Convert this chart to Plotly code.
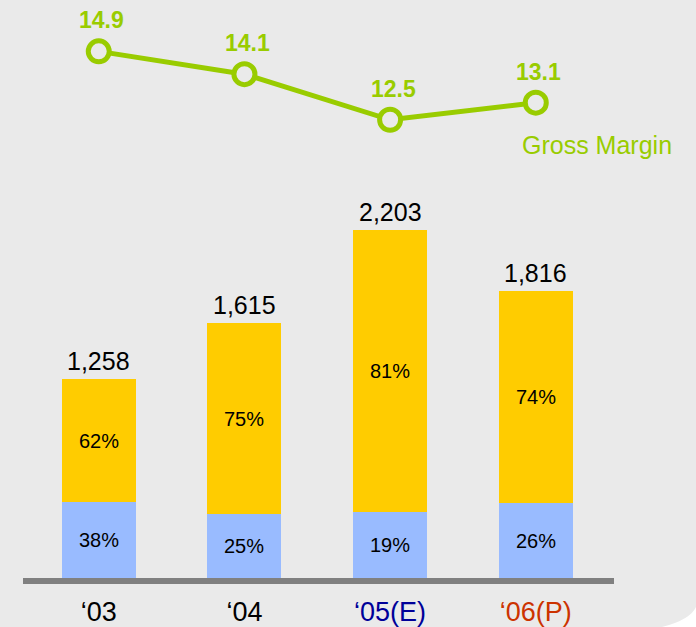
import plotly.graph_objects as go

# ---- data ----
categories = ["‘03", "‘04", "‘05(E)", "‘06(P)"]
category_colors = ["#000000", "#000000", "#000099", "#CC3300"]
totals = [1258, 1615, 2203, 1816]
share_lower = [38, 25, 19, 26]   # light blue segment (%)
share_upper = [62, 75, 81, 74]   # yellow segment (%)
gross_margin = [14.9, 14.1, 12.5, 13.1]

lower_vals = [t * s / 100 for t, s in zip(totals, share_lower)]
upper_vals = [t * s / 100 for t, s in zip(totals, share_upper)]

FONT = "Arial, Liberation Sans, sans-serif"
GREEN = "#99CC00"
BG = "#EAEAEA"

fig = go.Figure()

fig.add_trace(go.Bar(
    x=categories, y=lower_vals, marker=dict(color="#99BBFF", line=dict(width=0)),
    text=[f"{s}%" for s in share_lower], textposition="inside",
    insidetextanchor="middle", constraintext="none",
    textfont=dict(family=FONT, size=20, color="#000000"),
    width=0.508, hoverinfo="skip", showlegend=False,
))
fig.add_trace(go.Bar(
    x=categories, y=upper_vals, marker=dict(color="#FFCC00", line=dict(width=0)),
    text=[f"{s}%" for s in share_upper], textposition="inside",
    insidetextanchor="middle", constraintext="none",
    textfont=dict(family=FONT, size=20, color="#000000"),
    width=0.508, hoverinfo="skip", showlegend=False,
))

fig.add_trace(go.Scatter(
    x=categories, y=gross_margin, yaxis="y2", mode="lines+markers",
    line=dict(color=GREEN, width=5),
    marker=dict(size=21, color=BG, line=dict(color=GREEN, width=5)),
    cliponaxis=False, hoverinfo="skip", showlegend=False,
))

annotations = []
for c, t in zip(categories, totals):
    annotations.append(dict(
        x=c, y=t, xref="x", yref="y", text=f"{t:,}", showarrow=False,
        yanchor="bottom", yshift=2,
        font=dict(family=FONT, size=25, color="#000000"),
    ))
for c, g in zip(categories, gross_margin):
    annotations.append(dict(
        x=c, y=g, xref="x", yref="y2", text=f"<b>{g}</b>", showarrow=False,
        yanchor="middle", xshift=3, yshift=31,
        font=dict(family=FONT, size=23, color=GREEN),
    ))
annotations.append(dict(
    x=categories[-1], y=gross_margin[-1], xref="x", yref="y2",
    text="Gross Margin", showarrow=False, xanchor="center", yanchor="middle",
    xshift=61, yshift=-42, font=dict(family=FONT, size=25, color=GREEN),
))

fig.update_layout(
    width=696, height=627,
    margin=dict(l=0, r=0, t=0, b=0, autoexpand=False),
    paper_bgcolor="#FFFFFF", plot_bgcolor="rgba(0,0,0,0)",
    barmode="stack", bargap=0,
    showlegend=False,
    annotations=annotations,
    shapes=[dict(
        type="path", xref="paper", yref="paper", layer="below",
        path="M 0 0 L 0.9511 0 Q 0.9914 0.0112 1 0.0319 L 1 1 L 0 1 Z",
        fillcolor=BG, line=dict(width=0),
    )],
    xaxis=dict(
        domain=[0.03305, 0.8822], range=[-0.52, 3.537], automargin=False,
        showline=True, linecolor="#808080", linewidth=6,
        showgrid=False, zeroline=False, ticks="", ticklabelstandoff=5,
        tickvals=categories,
        ticktext=[f"<span style='color:{col}'>{c}</span>" for c, col in zip(categories, category_colors)],
        tickfont=dict(family=FONT, size=27, color="#000000"),
        fixedrange=True,
    ),
    yaxis=dict(
        domain=[0.07815, 0.7081], range=[0, 2500], automargin=False,
        visible=False, showgrid=False, zeroline=False, fixedrange=True,
    ),
    yaxis2=dict(
        domain=[0.7408, 0.9681], range=[11, 16], anchor="x", automargin=False,
        visible=False, showgrid=False, zeroline=False, fixedrange=True,
    ),
)

fig.write_html(
    "out.html",
    config={"displayModeBar": False},
    post_script="document.body.style.margin='0';document.body.style.overflow='hidden';",
)
